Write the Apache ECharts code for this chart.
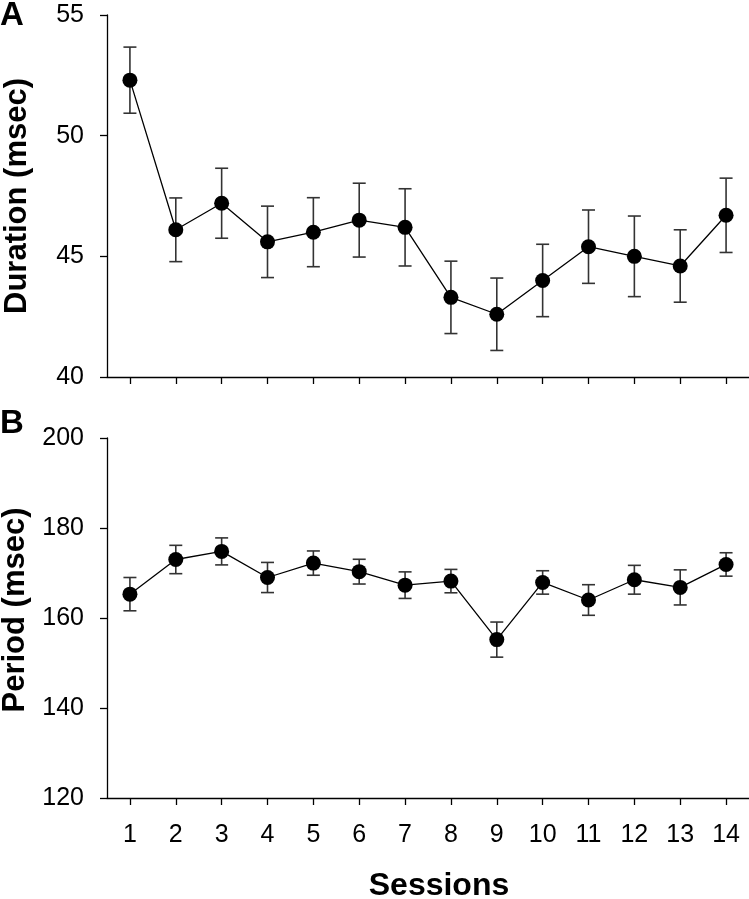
<!DOCTYPE html>
<html>
<head>
<meta charset="utf-8">
<script src="https://cdn.jsdelivr.net/npm/echarts@6/dist/echarts.min.js"></script>
<style>
html,body{margin:0;padding:0;background:#fff;}
#c{width:749px;height:899px;}
</style>
</head>
<body>
<div id="c"></div>
<script>
const sessions = ['1','2','3','4','5','6','7','8','9','10','11','12','13','14'];
const durationMean = [52.3, 46.1, 47.2, 45.6, 46.0, 46.5, 46.2, 43.3, 42.6, 44.0, 45.4, 45.0, 44.6, 46.7];
const durationErr  = [1.37, 1.32, 1.45, 1.48, 1.43, 1.53, 1.60, 1.50, 1.50, 1.50, 1.52, 1.67, 1.50, 1.54];
const periodMean = [165.3, 173.0, 174.8, 169.0, 172.2, 170.3, 167.3, 168.2, 155.2, 167.9, 164.0, 168.5, 166.8, 171.9];
const periodErr  = [3.7, 3.15, 3.0, 3.35, 2.7, 2.75, 2.95, 2.6, 3.9, 2.6, 3.4, 3.2, 3.9, 2.6];
const durationTicks = {min: 40, max: 55, interval: 5};
const periodTicks = {min: 120, max: 200, interval: 20};

const tickFont = "'Liberation Sans Narrow','Arial Narrow','Liberation Sans',Arial,sans-serif";
const boldFont = "'Liberation Sans',Arial,sans-serif";

function errData(mean, err){
  return mean.map((m,i)=>[i, m-err[i], m+err[i]]);
}
function renderErr(params, api){
  const i = api.value(0);
  const lo = api.coord([i, api.value(1)]);
  const hi = api.coord([i, api.value(2)]);
  const w = 6.5;
  const st = {stroke:'#333', lineWidth:1.6};
  return {type:'group', children:[
    {type:'line', shape:{x1:lo[0], y1:lo[1], x2:hi[0], y2:hi[1]}, style:st},
    {type:'line', shape:{x1:lo[0]-w, y1:lo[1], x2:lo[0]+w, y2:lo[1]}, style:st},
    {type:'line', shape:{x1:hi[0]-w, y1:hi[1], x2:hi[0]+w, y2:hi[1]}, style:st}
  ]};
}

const axisLine = {show:true, onZero:false, lineStyle:{color:'#000', width:1.3}};
const axisTick = {show:true, inside:false, length:7, lineStyle:{color:'#000', width:1.3}};

const chart = echarts.init(document.getElementById('c'), null, {renderer:'canvas'});
chart.setOption({
  animation:false,
  backgroundColor:'#fff',
  grid:[
    {left:107, right:0, top:15, height:362, containLabel:false, outerBoundsMode:'none'},
    {left:107, right:0, top:438, height:360, containLabel:false, outerBoundsMode:'none'}
  ],
  xAxis:[
    {type:'category', gridIndex:0, data:sessions, boundaryGap:true,
     axisLine:axisLine, axisTick:Object.assign({alignWithLabel:true}, axisTick),
     axisLabel:{show:false}, splitLine:{show:false}},
    {type:'category', gridIndex:1, data:sessions, boundaryGap:true,
     axisLine:axisLine, axisTick:Object.assign({alignWithLabel:true}, axisTick),
     axisLabel:{show:true, margin:25, color:'#000', fontSize:25, fontFamily:tickFont},
     splitLine:{show:false},
     name:'Sessions', nameLocation:'middle', nameGap:72,
     nameTextStyle:{fontSize:32, fontWeight:'bold', color:'#000', fontFamily:boldFont, padding:[0,0,0,22]}}
  ],
  yAxis:[
    {type:'value', gridIndex:0, min:durationTicks.min, max:durationTicks.max, interval:durationTicks.interval,
     axisLine:axisLine, axisTick:axisTick, splitLine:{show:false},
     axisLabel:{margin:23, color:'#000', fontSize:25, fontFamily:tickFont},
     name:'Duration (msec)', nameLocation:'middle', nameGap:74,
     nameTextStyle:{fontSize:31, fontWeight:'bold', color:'#000', fontFamily:boldFont}},
    {type:'value', gridIndex:1, min:periodTicks.min, max:periodTicks.max, interval:periodTicks.interval,
     axisLine:axisLine, axisTick:axisTick, splitLine:{show:false},
     axisLabel:{margin:23, color:'#000', fontSize:25, fontFamily:tickFont},
     name:'Period (msec)', nameLocation:'middle', nameGap:74,
     nameTextStyle:{fontSize:31, fontWeight:'bold', color:'#000', fontFamily:boldFont, padding:[0,0,0,16]}}
  ],
  graphic:[
    {type:'text', left:0, top:-1, style:{text:'A', font:"bold 33px 'Liberation Sans', Arial, sans-serif", fill:'#000'}},
    {type:'text', left:0, top:407, style:{text:'B', font:"bold 33px 'Liberation Sans', Arial, sans-serif", fill:'#000'}}
  ],
  series:[
    {type:'custom', xAxisIndex:0, yAxisIndex:0, renderItem:renderErr, data:errData(durationMean, durationErr), z:2},
    {type:'line', xAxisIndex:0, yAxisIndex:0, data:durationMean, symbol:'circle', symbolSize:15,
     itemStyle:{color:'#000'}, lineStyle:{color:'#000', width:1.3}, z:3},
    {type:'custom', xAxisIndex:1, yAxisIndex:1, renderItem:renderErr, data:errData(periodMean, periodErr), z:2},
    {type:'line', xAxisIndex:1, yAxisIndex:1, data:periodMean, symbol:'circle', symbolSize:15,
     itemStyle:{color:'#000'}, lineStyle:{color:'#000', width:1.3}, z:3}
  ]
});
</script>
</body>
</html>
